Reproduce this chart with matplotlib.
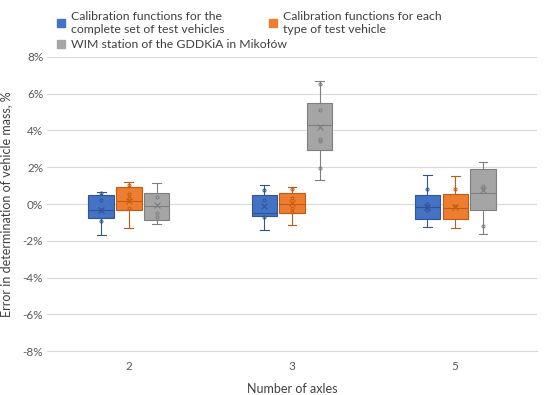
import numpy as np
import matplotlib.pyplot as plt
from matplotlib.ticker import FuncFormatter
from matplotlib.lines import Line2D

plt.rcParams['font.family'] = ['Lato', 'DejaVu Sans']

# data to plot (error, %)
axles = ['2', '3', '5']
series_names = ['Calibration functions for the\ncomplete set of test vehicles',
                'Calibration functions for each\ntype of test vehicle',
                'WIM station of the GDDKiA in Mikołów']

# per series, per axle group: whislo, q1, med, q3, whishi, mean
blue_stats = [(-1.7, -0.75, -0.35, 0.5, 0.65, -0.3),
              (-1.4, -0.65, -0.5, 0.5, 1.05, -0.1),
              (-1.25, -0.8, -0.15, 0.5, 1.6, -0.15)]
orange_stats = [(-1.3, -0.3, 0.15, 0.9, 1.2, 0.15),
                (-1.15, -0.5, 0.0, 0.6, 0.9, 0.05),
                (-1.3, -0.8, -0.2, 0.55, 1.5, -0.15)]
gray_stats = [(-1.1, -0.85, -0.1, 0.6, 1.15, -0.05),
              (1.3, 2.95, 4.3, 5.5, 6.7, 4.2),
              (-1.65, -0.3, 0.6, 1.9, 2.3, 0.75)]

# inner points
blue_pts = [[-0.9, 0.2, -0.3, 0.6], [0.75, -0.7, 0.2], [0.8, 0.0, -0.3]]
orange_pts = [[1.05, 0.55, 0.3, -0.2], [0.8, 0.3, -0.2, -0.45], [0.8, -0.1]]
gray_pts = [[0.4, -0.5, -0.7], [6.55, 5.1, 3.55, 3.4, 1.95], [-1.2, 1.0, 0.85]]

colors = ['#4472C4', '#ED7D31', '#A5A5A5']
edges = ['#2F5597', '#C55A11', '#7F7F7F']

fig = plt.figure(figsize=(5.5, 3.95), dpi=100)
ax = fig.add_axes([0.086, 0.111, 0.890, 0.745])

index = np.arange(len(axles))
offset = 0.17
width = 0.155

all_stats = [blue_stats, orange_stats, gray_stats]
all_pts = [blue_pts, orange_pts, gray_pts]
for k in range(3):
    stats = []
    for s in all_stats[k]:
        stats.append(dict(whislo=s[0], q1=s[1], med=s[2], q3=s[3], whishi=s[4],
                          mean=s[5], fliers=[]))
    pos = index + (k - 1) * offset
    ax.bxp(stats, positions=pos, widths=width, showmeans=True, patch_artist=True,
           boxprops=dict(facecolor=colors[k], edgecolor=edges[k], linewidth=0.8),
           medianprops=dict(color=edges[k], linewidth=0.8),
           whiskerprops=dict(color=edges[k], linewidth=0.8),
           capprops=dict(color=edges[k], linewidth=0.8),
           capwidths=width * 0.35,
           meanprops=dict(marker='x', markeredgecolor=edges[k], markersize=4,
                          markeredgewidth=0.8),
           zorder=3)
    for i, pts in enumerate(all_pts[k]):
        ax.plot([pos[i]] * len(pts), pts, 'o', ms=2.2, mfc='none',
                mec=edges[k], mew=0.7, zorder=4)

ax.set_xlim(-0.5, 2.5)
ax.set_ylim(-8, 8)
ax.set_yticks(np.arange(-8, 9, 2))
ax.yaxis.set_major_formatter(FuncFormatter(lambda v, p: '%d%%' % v))
ax.set_xticks(index)
ax.set_xticklabels(axles)
ax.grid(axis='y', color='#D9D9D9', linewidth=0.8, zorder=0)
ax.set_axisbelow(True)
for sp in ['top', 'right', 'left']:
    ax.spines[sp].set_visible(False)
ax.spines['bottom'].set_color('#D9D9D9')
ax.tick_params(length=0, labelsize=8.5, colors='#595959')
ax.tick_params(axis='y', pad=3)
ax.tick_params(axis='x', pad=7)
ax.set_xlabel('Number of axles', fontsize=9, color='#404040', labelpad=8)
ax.set_ylabel('Error in determination of vehicle mass, %', fontsize=9,
              color='#404040')
ax.yaxis.set_label_coords(-0.072, 0.5)

handles = [Line2D([], [], marker='s', ls='none', color=colors[k], ms=6) for k in range(3)]
fig.legend(handles[:2], series_names[:2], ncol=2, loc='upper left',
           bbox_to_anchor=(0.082, 1.0), frameon=False, fontsize=8.8,
           handlelength=0.8, handletextpad=0.4, columnspacing=3.6,
           labelcolor='#404040')
fig.legend(handles[2:], series_names[2:], loc='center left',
           bbox_to_anchor=(0.082, 1 - 45 / 395), frameon=False, fontsize=8.8,
           handlelength=0.8, handletextpad=0.4, labelcolor='#404040')

fig.savefig('out.png', dpi=100)
